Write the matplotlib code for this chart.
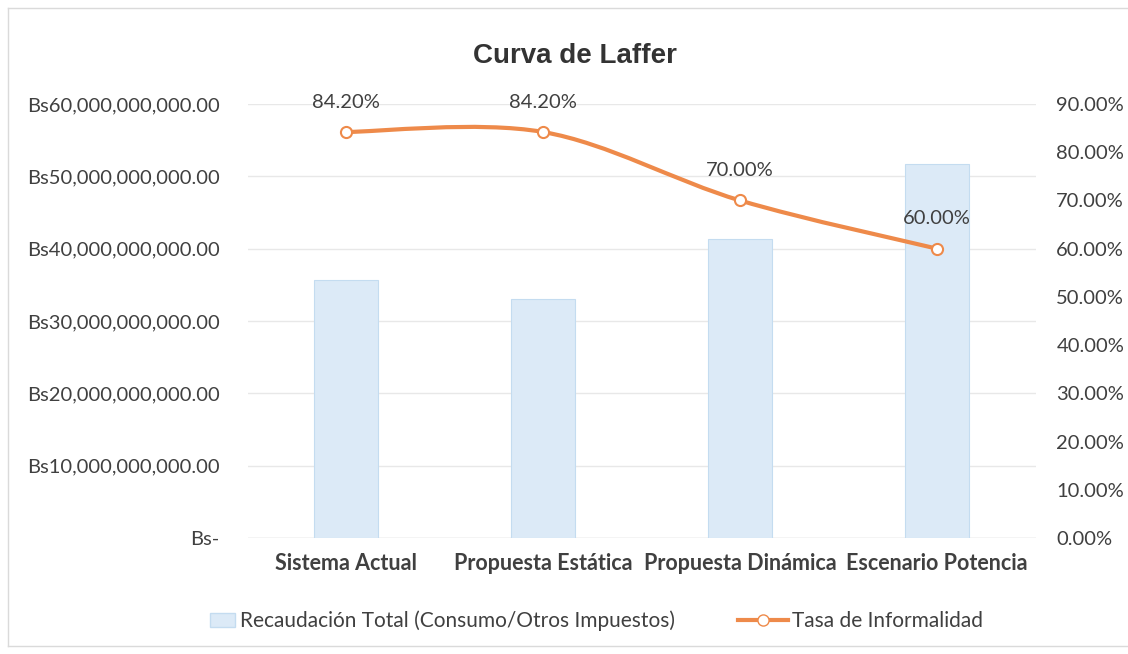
import matplotlib
matplotlib.use("Agg")
import matplotlib.pyplot as plt
from matplotlib.path import Path
from matplotlib.patches import PathPatch, Rectangle
from matplotlib.lines import Line2D
from matplotlib.legend_handler import HandlerPatch
from matplotlib.ticker import FuncFormatter, MultipleLocator
import numpy as np

categories = ["Sistema Actual", "Propuesta Estática", "Propuesta Dinámica", "Escenario Potencia"]
recaudacion = [35.7e9, 33.1e9, 41.4e9, 51.7e9]
informalidad = [84.2, 84.2, 70.0, 60.0]
bar_label = "Recaudación Total (Consumo/Otros Impuestos)"
line_label = "Tasa de Informalidad"
title = "Curva de Laffer"

plt.rcParams['font.family'] = ['Lato', 'DejaVu Sans']
text_color = "#404040"
bar_face = "#DCEAF7"
bar_edge = "#C4DCF0"
line_color = "#EE8A4A"

W, H = 1128, 654
fig = plt.figure(figsize=(W/100, H/100), dpi=100)
ax = fig.add_axes([247.5/W, 1-538/H, (1035.5-247.5)/W, (538-104)/H])
x = np.arange(len(categories))
ax.bar(x, recaudacion, width=0.32, color=bar_face, edgecolor=bar_edge, linewidth=0.8, zorder=2)
ax.set_xlim(-0.5, len(categories)-0.5)
ax.set_ylim(0, 60e9)
ax.yaxis.set_major_locator(MultipleLocator(10e9))

def bs_fmt(v, pos):
    if abs(v) < 1:
        return "Bs-"
    return "Bs{:,.2f}".format(v)
ax.yaxis.set_major_formatter(FuncFormatter(bs_fmt))
ax.grid(axis='y', color="#E8E8E8", linewidth=1, zorder=0)
for s in ax.spines.values():
    s.set_visible(False)
ax.axhline(0, color="#DADADA", linewidth=1, zorder=1)
ax.tick_params(axis='y', length=0, pad=20, labelsize=14.5, labelcolor=text_color)
ax.tick_params(axis='x', length=0, pad=11, labelsize=15.5, labelcolor=text_color)
ax.set_xticks(x)
ax.set_xticklabels(categories, fontweight='bold')

ax2 = ax.twinx()
ax2.set_ylim(0, 90)
ax2.yaxis.set_major_locator(MultipleLocator(10))
ax2.yaxis.set_major_formatter(FuncFormatter(lambda v, p: "{:.2f}%".format(v)))
for s in ax2.spines.values():
    s.set_visible(False)
ax2.tick_params(axis='y', length=0, pad=15, labelsize=14.5, labelcolor=text_color)

# smooth line (Bezier through data points)
pts = np.column_stack([x, informalidad]).astype(float)
verts = [tuple(pts[0])]
codes = [Path.MOVETO]
n = len(pts)
for i in range(n-1):
    p0 = pts[i-1] if i > 0 else pts[i]
    p1 = pts[i]
    p2 = pts[i+1]
    p3 = pts[i+2] if i+2 < n else pts[i+1]
    c1 = p1 + (p2 - p0)/6
    c2 = p2 - (p3 - p1)/6
    verts += [tuple(c1), tuple(c2), tuple(p2)]
    codes += [Path.CURVE4]*3
ax2.add_patch(PathPatch(Path(verts, codes), facecolor='none', edgecolor=line_color, linewidth=3,
                        zorder=3, capstyle='round'))
ax2.plot(x, informalidad, linestyle='none', marker='o', markersize=8, markerfacecolor='white',
         markeredgecolor=line_color, markeredgewidth=1.5, zorder=4)
for xi, v in zip(x, informalidad):
    ax2.annotate("{:.2f}%".format(v), (xi, v), xytext=(0, 21.5), textcoords='offset points',
                 ha='center', va='center', fontsize=14.5, color=text_color)

fig.text(575/W, 1-63/H, title, ha='center', va='baseline', fontsize=20, fontweight='bold',
         color="#333333", family=['Liberation Sans', 'DejaVu Sans'])

# legend
def small_patch(legend, orig_handle, xdescent, ydescent, width, height, fontsize):
    w = 18
    return Rectangle((width - xdescent - w, -ydescent), w, height)

handles = [Rectangle((0, 0), 1, 1, facecolor=bar_face, edgecolor=bar_edge),
           Line2D([0], [0], color=line_color, linewidth=3, marker='o', markersize=8,
                  markerfacecolor='white', markeredgecolor=line_color)]
fig.legend(handles, [bar_label, line_label], loc='center left', bbox_to_anchor=(185/W, 1-621/H),
           ncol=2, frameon=False, fontsize=15, labelcolor=text_color, columnspacing=3.0,
           handlelength=2.4, handletextpad=0.24, borderpad=0, borderaxespad=0,
           handler_map={Rectangle: HandlerPatch(patch_func=small_patch)})

# faint chart border (left, top, bottom)
fig.add_artist(Line2D([8/W, 8/W], [8/H, 1-8/H], transform=fig.transFigure, color="#DADADA", linewidth=1))
fig.add_artist(Line2D([8/W, 1], [1-8/H, 1-8/H], transform=fig.transFigure, color="#DADADA", linewidth=1))
fig.add_artist(Line2D([8/W, 1], [8/H, 8/H], transform=fig.transFigure, color="#DADADA", linewidth=1))
fig.savefig("out.png", dpi=100, facecolor='white')
